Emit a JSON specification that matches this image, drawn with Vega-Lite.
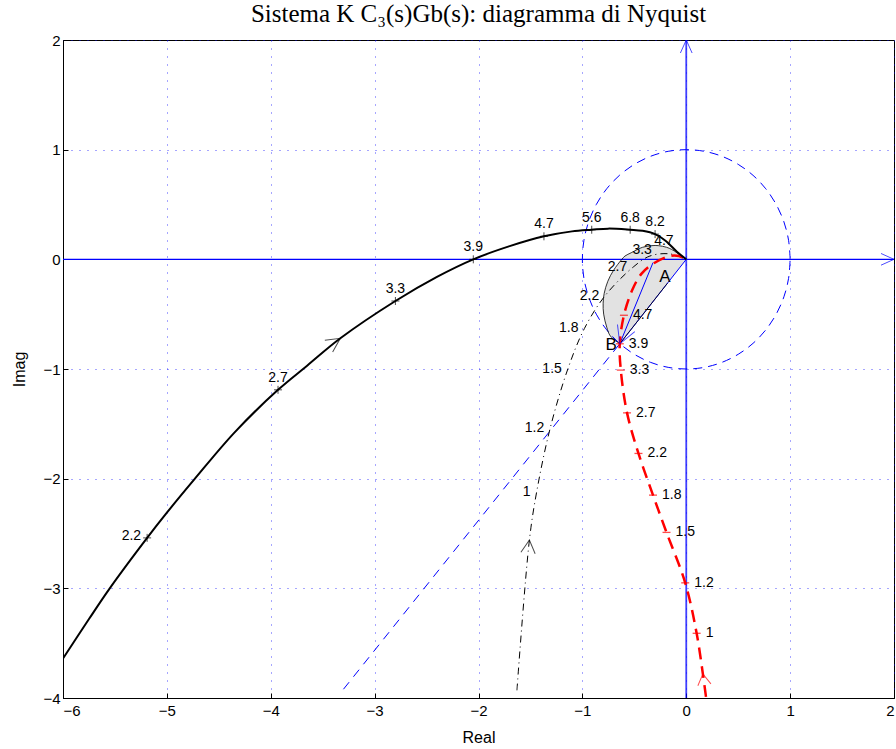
{
  "$schema": "https://vega.github.io/schema/vega-lite/v6.json",
  "width": 831,
  "height": 658,
  "autosize": {"type": "none"},
  "padding": {"left": 63, "top": 40, "right": 2, "bottom": 51},
  "background": "white",
  "title": {
    "text": "Sistema K C₃(s)Gb(s): diagramma di Nyquist",
    "font": "Liberation Serif",
    "fontSize": 25,
    "fontWeight": "normal",
    "color": "black",
    "anchor": "middle",
    "offset": 6
  },
  "config": {
    "view": {"stroke": "black", "strokeWidth": 1},
    "axis": {
      "domainColor": "black",
      "tickColor": "black",
      "tickSize": -5,
      "format": "d",
      "labelFont": "Liberation Sans",
      "labelFontSize": 15,
      "labelColor": "black",
      "titleFont": "Liberation Sans",
      "titleFontSize": 16,
      "titleFontWeight": "normal",
      "titleColor": "black",
      "gridColor": "#0000ff",
      "gridOpacity": 0.7,
      "gridDash": [1, 7],
      "gridWidth": 1
    }
  },
  "datasets": {
    "comp": [
      {"n": 0, "re": -6.0, "im": -3.64},
      {"n": 1, "re": -5.75, "im": -3.28},
      {"n": 2, "re": -5.55, "im": -3.0},
      {"n": 3, "re": -5.19, "im": -2.54},
      {"n": 4, "re": -5.0, "im": -2.31},
      {"n": 5, "re": -4.73, "im": -2.0},
      {"n": 6, "re": -4.35, "im": -1.58},
      {"n": 7, "re": -3.93, "im": -1.19},
      {"n": 8, "re": -3.65, "im": -0.97},
      {"n": 9, "re": -3.33, "im": -0.72},
      {"n": 10, "re": -2.8, "im": -0.38},
      {"n": 11, "re": -2.4, "im": -0.16},
      {"n": 12, "re": -2.05, "im": 0.0},
      {"n": 13, "re": -1.7, "im": 0.12},
      {"n": 14, "re": -1.37, "im": 0.21},
      {"n": 15, "re": -1.1, "im": 0.255},
      {"n": 16, "re": -0.91, "im": 0.27},
      {"n": 17, "re": -0.75, "im": 0.28},
      {"n": 18, "re": -0.54, "im": 0.27},
      {"n": 19, "re": -0.42, "im": 0.26},
      {"n": 20, "re": -0.3, "im": 0.23},
      {"n": 21, "re": -0.2, "im": 0.17},
      {"n": 22, "re": -0.09, "im": 0.07},
      {"n": 23, "re": 0.0, "im": 0.0}
    ],
    "comp_w": [
      {"re": -5.19, "im": -2.54, "w": "2.2"},
      {"re": -3.93, "im": -1.19, "w": "2.7"},
      {"re": -2.8, "im": -0.38, "w": "3.3"},
      {"re": -2.05, "im": 0.0, "w": "3.9"},
      {"re": -1.37, "im": 0.21, "w": "4.7"},
      {"re": -0.91, "im": 0.27, "w": "5.6"},
      {"re": -0.54, "im": 0.27, "w": "6.8"},
      {"re": -0.3, "im": 0.23, "w": "8.2"}
    ],
    "orig": [
      {"n": 0, "re": -1.63, "im": -3.93},
      {"n": 1, "re": -1.51, "im": -2.56},
      {"n": 2, "re": -1.44, "im": -2.12},
      {"n": 3, "re": -1.31, "im": -1.54},
      {"n": 4, "re": -1.14, "im": -1.0},
      {"n": 5, "re": -0.98, "im": -0.63},
      {"n": 6, "re": -0.78, "im": -0.33},
      {"n": 7, "re": -0.51, "im": -0.07},
      {"n": 8, "re": -0.35, "im": 0.03},
      {"n": 9, "re": -0.16, "im": 0.05},
      {"n": 10, "re": 0.0, "im": 0.0}
    ],
    "orig_w": [
      {"re": -1.44, "im": -2.12, "w": "1", "pos": "side"},
      {"re": -1.31, "im": -1.54, "w": "1.2", "pos": "side"},
      {"re": -1.14, "im": -1.0, "w": "1.5", "pos": "side"},
      {"re": -0.98, "im": -0.63, "w": "1.8", "pos": "side"},
      {"re": -0.78, "im": -0.33, "w": "2.2", "pos": "side"},
      {"re": -0.51, "im": -0.07, "w": "2.7", "pos": "side"},
      {"re": -0.35, "im": 0.03, "w": "3.3", "pos": "top"},
      {"re": -0.16, "im": 0.05, "w": "4.7", "pos": "high"}
    ],
    "rete": [
      {"n": 0, "re": 0.19, "im": -3.99},
      {"n": 1, "re": 0.16, "im": -3.78},
      {"n": 2, "re": 0.1, "im": -3.41},
      {"n": 3, "re": -0.01, "im": -2.95},
      {"n": 4, "re": -0.19, "im": -2.49},
      {"n": 5, "re": -0.32, "im": -2.15},
      {"n": 6, "re": -0.46, "im": -1.77},
      {"n": 7, "re": -0.57, "im": -1.4},
      {"n": 8, "re": -0.63, "im": -1.01},
      {"n": 9, "re": -0.64, "im": -0.77},
      {"n": 10, "re": -0.6, "im": -0.51},
      {"n": 11, "re": -0.52, "im": -0.28},
      {"n": 12, "re": -0.43, "im": -0.13},
      {"n": 13, "re": -0.32, "im": -0.04},
      {"n": 14, "re": -0.16, "im": 0.03},
      {"n": 15, "re": -0.07, "im": 0.03},
      {"n": 16, "re": 0.0, "im": 0.0}
    ],
    "rete_w": [
      {"re": 0.1, "im": -3.41, "w": "1"},
      {"re": -0.01, "im": -2.95, "w": "1.2"},
      {"re": -0.19, "im": -2.49, "w": "1.5"},
      {"re": -0.32, "im": -2.15, "w": "1.8"},
      {"re": -0.46, "im": -1.77, "w": "2.2"},
      {"re": -0.57, "im": -1.4, "w": "2.7"},
      {"re": -0.63, "im": -1.01, "w": "3.3"},
      {"re": -0.64, "im": -0.77, "w": "3.9"},
      {"re": -0.6, "im": -0.51, "w": "4.7"}
    ],
    "lente": [
      {"im": -0.77, "re": -0.64, "re2": -0.64},
      {"im": -0.7, "re": -0.73, "re2": -0.582},
      {"im": -0.62, "re": -0.765, "re2": -0.516},
      {"im": -0.5, "re": -0.795, "re2": -0.416},
      {"im": -0.4, "re": -0.8, "re2": -0.332},
      {"im": -0.31, "re": -0.79, "re2": -0.258},
      {"im": -0.2, "re": -0.755, "re2": -0.166},
      {"im": -0.1, "re": -0.7, "re2": -0.083},
      {"im": 0.0, "re": -0.62, "re2": 0.0},
      {"im": 0.03, "re": -0.59, "re2": -0.045},
      {"im": 0.06, "re": -0.53, "re2": -0.09},
      {"im": 0.09, "re": -0.47, "re2": -0.14},
      {"im": 0.11, "re": -0.42, "re2": -0.19},
      {"im": 0.125, "re": -0.33, "re2": -0.27}
    ],
    "bordo": [
      {"n": 0, "re": 0.0, "im": 0.0},
      {"n": 1, "re": -0.045, "im": 0.03},
      {"n": 2, "re": -0.09, "im": 0.06},
      {"n": 3, "re": -0.14, "im": 0.09},
      {"n": 4, "re": -0.19, "im": 0.11},
      {"n": 5, "re": -0.27, "im": 0.125},
      {"n": 6, "re": -0.33, "im": 0.125},
      {"n": 7, "re": -0.42, "im": 0.11},
      {"n": 8, "re": -0.47, "im": 0.09},
      {"n": 9, "re": -0.53, "im": 0.06},
      {"n": 10, "re": -0.59, "im": 0.03},
      {"n": 11, "re": -0.62, "im": 0.0},
      {"n": 12, "re": -0.7, "im": -0.1},
      {"n": 13, "re": -0.755, "im": -0.2},
      {"n": 14, "re": -0.79, "im": -0.31},
      {"n": 15, "re": -0.8, "im": -0.4},
      {"n": 16, "re": -0.795, "im": -0.5},
      {"n": 17, "re": -0.765, "im": -0.62},
      {"n": 18, "re": -0.73, "im": -0.7},
      {"n": 19, "re": -0.64, "im": -0.77}
    ],
    "lato": [
      {"n": 0, "re": -0.64, "im": -0.77},
      {"n": 1, "re": -0.18, "im": -0.217}
    ],
    "cerchio": [
      {"n": 0, "re": 1.0, "im": 0.0},
      {"n": 1, "re": 0.985, "im": 0.174},
      {"n": 2, "re": 0.94, "im": 0.342},
      {"n": 3, "re": 0.866, "im": 0.5},
      {"n": 4, "re": 0.766, "im": 0.643},
      {"n": 5, "re": 0.643, "im": 0.766},
      {"n": 6, "re": 0.5, "im": 0.866},
      {"n": 7, "re": 0.342, "im": 0.94},
      {"n": 8, "re": 0.174, "im": 0.985},
      {"n": 9, "re": 0.0, "im": 1.0},
      {"n": 10, "re": -0.174, "im": 0.985},
      {"n": 11, "re": -0.342, "im": 0.94},
      {"n": 12, "re": -0.5, "im": 0.866},
      {"n": 13, "re": -0.643, "im": 0.766},
      {"n": 14, "re": -0.766, "im": 0.643},
      {"n": 15, "re": -0.866, "im": 0.5},
      {"n": 16, "re": -0.94, "im": 0.342},
      {"n": 17, "re": -0.985, "im": 0.174},
      {"n": 18, "re": -1.0, "im": 0.0},
      {"n": 19, "re": -0.985, "im": -0.174},
      {"n": 20, "re": -0.94, "im": -0.342},
      {"n": 21, "re": -0.866, "im": -0.5},
      {"n": 22, "re": -0.766, "im": -0.643},
      {"n": 23, "re": -0.643, "im": -0.766},
      {"n": 24, "re": -0.5, "im": -0.866},
      {"n": 25, "re": -0.342, "im": -0.94},
      {"n": 26, "re": -0.174, "im": -0.985},
      {"n": 27, "re": 0.0, "im": -1.0},
      {"n": 28, "re": 0.174, "im": -0.985},
      {"n": 29, "re": 0.342, "im": -0.94},
      {"n": 30, "re": 0.5, "im": -0.866},
      {"n": 31, "re": 0.643, "im": -0.766},
      {"n": 32, "re": 0.766, "im": -0.643},
      {"n": 33, "re": 0.866, "im": -0.5},
      {"n": 34, "re": 0.94, "im": -0.342},
      {"n": 35, "re": 0.985, "im": -0.174},
      {"n": 36, "re": 1.0, "im": 0.0}
    ],
    "retta": [
      {"n": 0, "re": -3.3, "im": -3.92},
      {"n": 1, "re": -0.64, "im": -0.77}
    ],
    "vettori": [
      {"seg": "OB", "n": 0, "re": 0.0, "im": 0.0},
      {"seg": "OB", "n": 1, "re": -0.64, "im": -0.77},
      {"seg": "AB", "n": 0, "re": -0.32, "im": -0.03},
      {"seg": "AB", "n": 1, "re": -0.64, "im": -0.77}
    ],
    "punti": [
      {"re": -0.32, "im": -0.03, "nome": "A"},
      {"re": -0.64, "im": -0.77, "nome": "B"}
    ]
  },
  "layer": [
    {
      "data": {"name": "lente"},
      "mark": {"type": "area", "orient": "horizontal", "color": "#e2e2e2", "clip": true},
      "encoding": {
        "y": {"field": "im", "type": "quantitative", "scale": {"domain": [-4, 2], "nice": false, "zero": false},
          "axis": {"title": "Imag", "values": [-4, -3, -2, -1, 0, 1, 2], "grid": true, "labelPadding": 8, "titlePadding": 15}},
        "x": {"field": "re", "type": "quantitative", "scale": {"domain": [-6, 2], "nice": false, "zero": false},
          "axis": {"title": "Real", "values": [-6, -5, -4, -3, -2, -1, 0, 1, 2], "grid": true, "labelPadding": 10, "titlePadding": 11}},
        "x2": {"field": "re2"}
      }
    },
    {
      "data": {"values": [{}]},
      "mark": {"type": "rule", "color": "#0000ff", "strokeWidth": 1.2},
      "encoding": {"y": {"datum": 0, "type": "quantitative", "scale": {"domain": [-4, 2], "nice": false, "zero": false}}}
    },
    {
      "data": {"values": [{}]},
      "mark": {"type": "rule", "color": "#0000ff", "strokeWidth": 1.8, "opacity": 0.75},
      "encoding": {"x": {"datum": 0, "type": "quantitative", "scale": {"domain": [-6, 2], "nice": false, "zero": false}}}
    },
    {
      "data": {"name": "cerchio"},
      "mark": {"type": "line", "color": "#0000ff", "strokeWidth": 1, "strokeDash": [9, 6], "interpolate": "catmull-rom", "clip": true},
      "encoding": {
        "x": {"field": "re", "type": "quantitative", "scale": {"domain": [-6, 2], "nice": false, "zero": false}},
        "y": {"field": "im", "type": "quantitative", "scale": {"domain": [-4, 2], "nice": false, "zero": false}},
        "order": {"field": "n"}
      }
    },
    {
      "data": {"name": "retta"},
      "mark": {"type": "line", "color": "#0000ff", "strokeWidth": 1, "strokeDash": [9, 7], "clip": true},
      "encoding": {
        "x": {"field": "re", "type": "quantitative", "scale": {"domain": [-6, 2], "nice": false, "zero": false}},
        "y": {"field": "im", "type": "quantitative", "scale": {"domain": [-4, 2], "nice": false, "zero": false}},
        "order": {"field": "n"}
      }
    },
    {
      "data": {"name": "vettori"},
      "mark": {"type": "line", "color": "#0000ff", "strokeWidth": 1, "clip": true},
      "encoding": {
        "x": {"field": "re", "type": "quantitative", "scale": {"domain": [-6, 2], "nice": false, "zero": false}},
        "y": {"field": "im", "type": "quantitative", "scale": {"domain": [-4, 2], "nice": false, "zero": false}},
        "detail": {"field": "seg"},
        "order": {"field": "n"}
      }
    },
    {
      "data": {"name": "bordo"},
      "mark": {"type": "line", "color": "black", "strokeWidth": 0.8, "interpolate": "catmull-rom", "clip": true},
      "encoding": {
        "x": {"field": "re", "type": "quantitative", "scale": {"domain": [-6, 2], "nice": false, "zero": false}},
        "y": {"field": "im", "type": "quantitative", "scale": {"domain": [-4, 2], "nice": false, "zero": false}},
        "order": {"field": "n"}
      }
    },
    {
      "data": {"name": "lato"},
      "mark": {"type": "line", "color": "black", "strokeWidth": 0.8, "clip": true},
      "encoding": {
        "x": {"field": "re", "type": "quantitative", "scale": {"domain": [-6, 2], "nice": false, "zero": false}},
        "y": {"field": "im", "type": "quantitative", "scale": {"domain": [-4, 2], "nice": false, "zero": false}},
        "order": {"field": "n"}
      }
    },
    {
      "data": {"name": "orig"},
      "mark": {"type": "line", "color": "black", "strokeWidth": 1, "strokeDash": [7, 4, 1, 4], "interpolate": "catmull-rom", "clip": true},
      "encoding": {
        "x": {"field": "re", "type": "quantitative", "scale": {"domain": [-6, 2], "nice": false, "zero": false}},
        "y": {"field": "im", "type": "quantitative", "scale": {"domain": [-4, 2], "nice": false, "zero": false}},
        "order": {"field": "n"}
      }
    },
    {
      "data": {"name": "rete"},
      "mark": {"type": "line", "color": "#ff0000", "strokeWidth": 2.5, "strokeDash": [12, 7], "interpolate": "catmull-rom", "clip": true},
      "encoding": {
        "x": {"field": "re", "type": "quantitative", "scale": {"domain": [-6, 2], "nice": false, "zero": false}},
        "y": {"field": "im", "type": "quantitative", "scale": {"domain": [-4, 2], "nice": false, "zero": false}},
        "order": {"field": "n"}
      }
    },
    {
      "data": {"name": "comp"},
      "mark": {"type": "line", "color": "black", "strokeWidth": 2, "interpolate": "catmull-rom", "clip": true},
      "encoding": {
        "x": {"field": "re", "type": "quantitative", "scale": {"domain": [-6, 2], "nice": false, "zero": false}},
        "y": {"field": "im", "type": "quantitative", "scale": {"domain": [-4, 2], "nice": false, "zero": false}},
        "order": {"field": "n"}
      }
    },
    {
      "data": {"name": "comp_w"},
      "mark": {"type": "point", "shape": "M0,-1L0,1M-1,0L1,0", "size": 64, "filled": false, "color": "black", "strokeWidth": 1},
      "encoding": {
        "x": {"field": "re", "type": "quantitative", "scale": {"domain": [-6, 2], "nice": false, "zero": false}},
        "y": {"field": "im", "type": "quantitative", "scale": {"domain": [-4, 2], "nice": false, "zero": false}}
      }
    },
    {
      "data": {"name": "rete_w"},
      "mark": {"type": "point", "shape": "M-1,0L1,0", "size": 64, "filled": false, "color": "#ff0000", "strokeWidth": 1.3},
      "encoding": {
        "x": {"field": "re", "type": "quantitative", "scale": {"domain": [-6, 2], "nice": false, "zero": false}},
        "y": {"field": "im", "type": "quantitative", "scale": {"domain": [-4, 2], "nice": false, "zero": false}}
      }
    },
    {
      "data": {"name": "comp_w"},
      "transform": [{"filter": "datum.w !== '2.2'"}],
      "mark": {"type": "text", "font": "Liberation Sans", "fontSize": 14, "color": "black", "align": "center", "baseline": "bottom", "dy": -5},
      "encoding": {
        "x": {"field": "re", "type": "quantitative", "scale": {"domain": [-6, 2], "nice": false, "zero": false}},
        "y": {"field": "im", "type": "quantitative", "scale": {"domain": [-4, 2], "nice": false, "zero": false}},
        "text": {"field": "w"}
      }
    },
    {
      "data": {"name": "comp_w"},
      "transform": [{"filter": "datum.w === '2.2'"}],
      "mark": {"type": "text", "font": "Liberation Sans", "fontSize": 14, "color": "black", "align": "right", "baseline": "middle", "dx": -6, "dy": -2},
      "encoding": {
        "x": {"field": "re", "type": "quantitative", "scale": {"domain": [-6, 2], "nice": false, "zero": false}},
        "y": {"field": "im", "type": "quantitative", "scale": {"domain": [-4, 2], "nice": false, "zero": false}},
        "text": {"field": "w"}
      }
    },
    {
      "data": {"name": "orig_w"},
      "transform": [{"filter": "datum.pos === 'side'"}],
      "mark": {"type": "text", "font": "Liberation Sans", "fontSize": 14, "color": "black", "align": "right", "baseline": "middle", "dx": -6},
      "encoding": {
        "x": {"field": "re", "type": "quantitative", "scale": {"domain": [-6, 2], "nice": false, "zero": false}},
        "y": {"field": "im", "type": "quantitative", "scale": {"domain": [-4, 2], "nice": false, "zero": false}},
        "text": {"field": "w"}
      }
    },
    {
      "data": {"name": "orig_w"},
      "transform": [{"filter": "datum.pos === 'top'"}],
      "mark": {"type": "text", "font": "Liberation Sans", "fontSize": 14, "color": "black", "align": "right", "baseline": "bottom", "dx": 2, "dy": 1},
      "encoding": {
        "x": {"field": "re", "type": "quantitative", "scale": {"domain": [-6, 2], "nice": false, "zero": false}},
        "y": {"field": "im", "type": "quantitative", "scale": {"domain": [-4, 2], "nice": false, "zero": false}},
        "text": {"field": "w"}
      }
    },
    {
      "data": {"name": "orig_w"},
      "transform": [{"filter": "datum.pos === 'high'"}],
      "mark": {"type": "text", "font": "Liberation Sans", "fontSize": 14, "color": "black", "align": "right", "baseline": "bottom", "dx": 4, "dy": -6},
      "encoding": {
        "x": {"field": "re", "type": "quantitative", "scale": {"domain": [-6, 2], "nice": false, "zero": false}},
        "y": {"field": "im", "type": "quantitative", "scale": {"domain": [-4, 2], "nice": false, "zero": false}},
        "text": {"field": "w"}
      }
    },
    {
      "data": {"name": "rete_w"},
      "mark": {"type": "text", "font": "Liberation Sans", "fontSize": 14, "color": "black", "align": "left", "baseline": "middle", "dx": 9},
      "encoding": {
        "x": {"field": "re", "type": "quantitative", "scale": {"domain": [-6, 2], "nice": false, "zero": false}},
        "y": {"field": "im", "type": "quantitative", "scale": {"domain": [-4, 2], "nice": false, "zero": false}},
        "text": {"field": "w"}
      }
    },
    {
      "data": {"name": "punti"},
      "transform": [{"filter": "datum.nome === 'A'"}],
      "mark": {"type": "text", "font": "Liberation Sans", "fontSize": 17, "color": "black", "align": "center", "baseline": "middle", "dx": 12, "dy": 14},
      "encoding": {
        "x": {"field": "re", "type": "quantitative", "scale": {"domain": [-6, 2], "nice": false, "zero": false}},
        "y": {"field": "im", "type": "quantitative", "scale": {"domain": [-4, 2], "nice": false, "zero": false}},
        "text": {"field": "nome"}
      }
    },
    {
      "data": {"name": "punti"},
      "transform": [{"filter": "datum.nome === 'B'"}],
      "mark": {"type": "text", "font": "Liberation Sans", "fontSize": 17, "color": "black", "align": "right", "baseline": "middle", "dx": -3, "dy": 1},
      "encoding": {
        "x": {"field": "re", "type": "quantitative", "scale": {"domain": [-6, 2], "nice": false, "zero": false}},
        "y": {"field": "im", "type": "quantitative", "scale": {"domain": [-4, 2], "nice": false, "zero": false}},
        "text": {"field": "nome"}
      }
    },
    {
      "data": {"values": [{"re": -3.33, "im": -0.72}]},
      "mark": {"type": "point", "shape": "M-0.5,1L0,0L0.5,1", "size": 784, "angle": 56, "filled": false, "color": "black", "strokeWidth": 1},
      "encoding": {
        "x": {"field": "re", "type": "quantitative", "scale": {"domain": [-6, 2], "nice": false, "zero": false}},
        "y": {"field": "im", "type": "quantitative", "scale": {"domain": [-4, 2], "nice": false, "zero": false}}
      }
    },
    {
      "data": {"values": [{"re": -1.51, "im": -2.56}]},
      "mark": {"type": "point", "shape": "M-0.55,1L0,0L0.55,1", "size": 676, "angle": 6, "filled": false, "color": "black", "strokeWidth": 1},
      "encoding": {
        "x": {"field": "re", "type": "quantitative", "scale": {"domain": [-6, 2], "nice": false, "zero": false}},
        "y": {"field": "im", "type": "quantitative", "scale": {"domain": [-4, 2], "nice": false, "zero": false}}
      }
    },
    {
      "data": {"values": [{"re": 0.16, "im": -3.78}]},
      "mark": {"type": "point", "shape": "M-0.6,1L0,0L0.6,1", "size": 484, "angle": 352, "filled": false, "color": "#ff0000", "strokeWidth": 1},
      "encoding": {
        "x": {"field": "re", "type": "quantitative", "scale": {"domain": [-6, 2], "nice": false, "zero": false}},
        "y": {"field": "im", "type": "quantitative", "scale": {"domain": [-4, 2], "nice": false, "zero": false}}
      }
    },
    {
      "data": {"values": [{"re": -0.64, "im": -0.77}]},
      "mark": {"type": "point", "shape": "M-0.55,1L0,0L0.55,1", "size": 1156, "angle": 202, "filled": false, "color": "#0000ff", "strokeWidth": 1},
      "encoding": {
        "x": {"field": "re", "type": "quantitative", "scale": {"domain": [-6, 2], "nice": false, "zero": false}},
        "y": {"field": "im", "type": "quantitative", "scale": {"domain": [-4, 2], "nice": false, "zero": false}}
      }
    },
    {
      "data": {"values": [{"re": 0, "im": 2}]},
      "mark": {"type": "point", "shape": "M-0.45,1L0,0L0.45,1", "size": 676, "angle": 0, "filled": false, "color": "#0000ff", "strokeWidth": 1},
      "encoding": {
        "x": {"field": "re", "type": "quantitative", "scale": {"domain": [-6, 2], "nice": false, "zero": false}},
        "y": {"field": "im", "type": "quantitative", "scale": {"domain": [-4, 2], "nice": false, "zero": false}}
      }
    },
    {
      "data": {"values": [{"re": 2, "im": 0}]},
      "mark": {"type": "point", "shape": "M-0.45,1L0,0L0.45,1", "size": 676, "angle": 90, "filled": false, "color": "#0000ff", "strokeWidth": 1},
      "encoding": {
        "x": {"field": "re", "type": "quantitative", "scale": {"domain": [-6, 2], "nice": false, "zero": false}},
        "y": {"field": "im", "type": "quantitative", "scale": {"domain": [-4, 2], "nice": false, "zero": false}}
      }
    }
  ]
}
